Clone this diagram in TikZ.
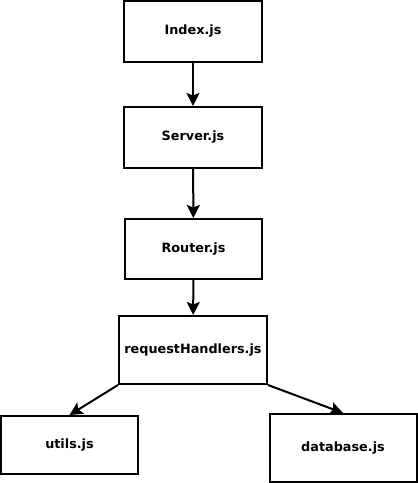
\documentclass[tikz,border=0pt]{standalone}
\usepackage{fontspec}
\setmainfont{DejaVu Sans}
\usetikzlibrary{arrows.meta,shapes}

\tikzset{
    file/.style={draw, rectangle, line width=2pt, font=\fontsize{12.8}{15}\selectfont\bfseries, inner sep=0pt},
    dep/.style={-{Stealth[length=13pt,width=13pt,inset=2.5pt]}, line width=2pt}
}

\begin{document}
\begin{tikzpicture}[x=1pt,y=-1pt]
        \useasboundingbox (0,0) rectangle (418,483);
        %\fill[white] (0,0) rectangle (418,483);
        \node[file, minimum width=138pt, minimum height=61pt] (index) at (193,31.5) {Index.js};
        \node[file, minimum width=138pt, minimum height=61pt] (server) at (193,137.5) {Server.js};
        \node[file, minimum width=137pt, minimum height=60pt] (router) at (193.5,249) {Router.js};
        \node[file, minimum width=148pt, minimum height=68pt] (handlers) at (193,350) {requestHandlers.js};
        \node[file, minimum width=137pt, minimum height=58pt] (utils) at (69.5,445) {utils.js};
        \node[file, minimum width=147pt, minimum height=68pt] (database) at (343,448) {database.js};
        \draw[dep] (index) -- (server);
        \draw[dep] (server) -- (router);
        \draw[dep] (router) -- (handlers);
        \draw[dep] (handlers.south west) -- (utils.north);
        \draw[dep] (handlers.south east) -- (database.north);
    \end{tikzpicture}
\end{document}
